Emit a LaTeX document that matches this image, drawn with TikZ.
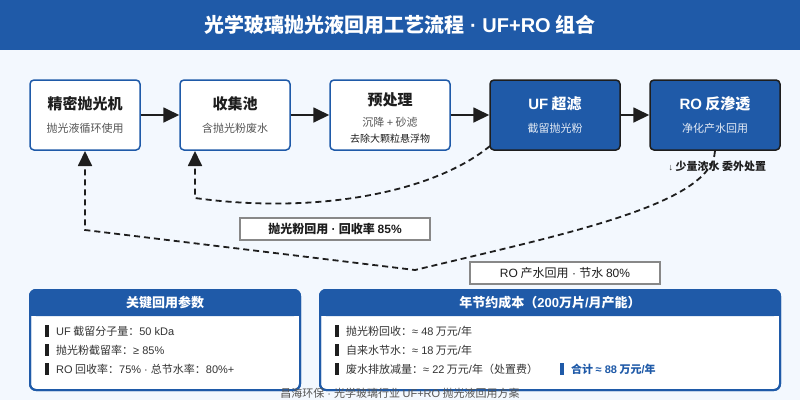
\documentclass[tikz,border=0pt]{standalone}
\usepackage{fontspec}
\setmainfont{Noto Sans CJK SC}
\newfontfamily\lf{Liberation Sans}
\newcommand{\la}[1]{{\lf #1}}
\newcommand{\mdot}{{\lf\ ·\ }}
\usetikzlibrary{arrows.meta,calc}
\definecolor{hblue}{HTML}{1F5AA8}
\definecolor{bgc}{HTML}{F3F8FE}
\definecolor{dark}{HTML}{1E1E1E}
\definecolor{txt}{HTML}{333333}
\definecolor{subg}{HTML}{555555}
\definecolor{lbl}{HTML}{888888}
\tikzset{
  fs/.style={font=\fontsize{#1}{#1}\selectfont},
  fsb/.style={font=\bfseries\fontsize{#1}{#1}\selectfont},
  lightbox/.style={draw=hblue, line width=1.5pt, fill=white, rounded corners=4pt, minimum width=110pt, minimum height=70pt, inner sep=0pt},
  darkbox/.style={draw=dark, line width=1.5pt, fill=hblue, rounded corners=4pt, minimum width=130pt, minimum height=70pt, inner sep=0pt},
  flow/.style={draw=dark, line width=1.8pt, -{Triangle[length=16pt,width=15pt]}},
  dashflow/.style={draw=dark, line width=1.8pt, dash pattern=on 6pt off 4pt},
  lblbox/.style={draw=lbl, line width=1.2pt, fill=white, minimum width=190pt, minimum height=22pt, inner sep=0pt},
  panel/.style={draw=hblue, line width=2pt, fill=white, rounded corners=6pt},
  item/.style={anchor=west, text=txt, fs=11, inner sep=0pt},
}
\begin{document}
\begin{tikzpicture}[x=1pt,y=-1pt]
\fill[bgc] (0,0) rectangle (800,400);
\useasboundingbox (0,0) rectangle (800,400);
% header
\fill[hblue] (0,0) rectangle (800,50);
\node[fsb=20, text=white] (title) at (400,25) {光学玻璃抛光液回用工艺流程\mdot\la{UF+RO} 组合};

% process boxes
\node[lightbox] (b1) at (85,115) {};
\node[fsb=15, text=dark] (b1t) at (85,104) {精密抛光机};
\node[fs=11, text=subg] (b1s) at (85,128) {抛光液循环使用};

\node[lightbox] (b2) at (235,115) {};
\node[fsb=15, text=dark] (b2t) at (235,104) {收集池};
\node[fs=11, text=subg] (b2s) at (235,128) {含抛光粉废水};

\node[lightbox, minimum width=120pt] (b3) at (390,115) {};
\node[fsb=15, text=dark] (b3t) at (390,100) {预处理};
\node[fs=11, text=subg] (b3s) at (390,122) {沉降 \la{+} 砂滤};
\node[fs=10, text=dark] (b3u) at (390,139) {去除大颗粒悬浮物};

\node[darkbox] (b4) at (555,115) {};
\node[fsb=15, text=white] (b4t) at (555,104) {\la{UF} 超滤};
\node[fs=11, text=white!88!hblue] (b4s) at (555,128) {截留抛光粉};

\node[darkbox] (b5) at (715,115) {};
\node[fsb=15, text=white] (b5t) at (715,104) {\la{RO} 反渗透};
\node[fs=11, text=white!88!hblue] (b5s) at (715,128) {净化产水回用};

\draw[flow] (b1.east) -- (b2.west);
\draw[flow] (b2.east) -- (b3.west);
\draw[flow] (b3.east) -- (b4.west);
\draw[flow] (b4.east) -- (b5.west);

% recycle paths
\coordinate (ufout) at (490,146);
\coordinate (b2in) at (195,151);
\coordinate (roout) at (715,151);
\coordinate (b1in) at (85,151);
\draw[dashflow, -{Triangle[length=15pt,width=14pt]}] (ufout) .. controls (430,195) and (310,214) .. (195,198) -- (b2in);
\draw[dashflow, -{Triangle[length=15pt,width=14pt]}] (roout) .. controls (712,205) and (560,235) .. (415,270) -- (85,230) -- (b1in);

\node[fsb=11, text=dark, anchor=west] (waste) at (665,166) {{\lf\fontsize{9}{9}\selectfont ↓} 少量浓水 委外处置};

\node[lblbox] (l1) at (335,229) {};
\node[fsb=12, text=dark] (l1t) at (335,229) {抛光粉回用\mdot 回收率 \la{85\%}};
\node[lblbox] (l2) at (565,273) {};
\node[fs=12, text=dark] (l2t) at (565,273) {\la{RO} 产水回用\mdot 节水 \la{80\%}};

% bottom panels
\draw[panel] (30,290) rectangle (300,390);
\fill[hblue, rounded corners=6pt] (30,290) rectangle (300,316);
\fill[hblue] (31,306) rectangle (299,316);
\draw[hblue, line width=2pt, rounded corners=6pt] (30,290) rectangle (300,390);
\node[fsb=13, text=white] (p1t) at (165,303) {关键回用参数};
\fill[dark] (45,325) rectangle (49,337);
\node[item] (p1a) at (56,331) {\la{UF} 截留分子量：\la{50 kDa}};
\fill[dark] (45,344) rectangle (49,356);
\node[item] (p1b) at (56,350) {抛光粉截留率：\la{≥ 85\%}};
\fill[dark] (45,363) rectangle (49,375);
\node[item] (p1c) at (56,369) {\la{RO} 回收率：\la{75\%}\mdot 总节水率：\la{80\%+}};

\draw[panel] (320,290) rectangle (780,390);
\fill[hblue, rounded corners=6pt] (320,290) rectangle (780,316);
\fill[hblue] (321,306) rectangle (779,316);
\draw[hblue, line width=2pt, rounded corners=6pt] (320,290) rectangle (780,390);
\node[fsb=13, text=white] (p2t) at (550,303) {年节约成本（\la{200}万片\la{/}月产能）};
\fill[dark] (335,325) rectangle (339,337);
\node[item] (p2a) at (346,331) {抛光粉回收：\la{≈ 48} 万元\la{/}年};
\fill[dark] (335,344) rectangle (339,356);
\node[item] (p2b) at (346,350) {自来水节水：\la{≈ 18} 万元\la{/}年};
\fill[dark] (335,363) rectangle (339,375);
\node[item] (p2c) at (346,369) {废水排放减量：\la{≈ 22} 万元\la{/}年（处置费）};
\fill[hblue] (560,363) rectangle (564,375);
\node[item, fsb=11, text=hblue] (p2d) at (571,369) {合计 \la{≈ 88} 万元\la{/}年};

\node[fs=11, text=subg] (foot) at (400,393) {昌海环保\mdot 光学玻璃行业 \la{UF+RO} 抛光液回用方案};
\end{tikzpicture}
\end{document}
